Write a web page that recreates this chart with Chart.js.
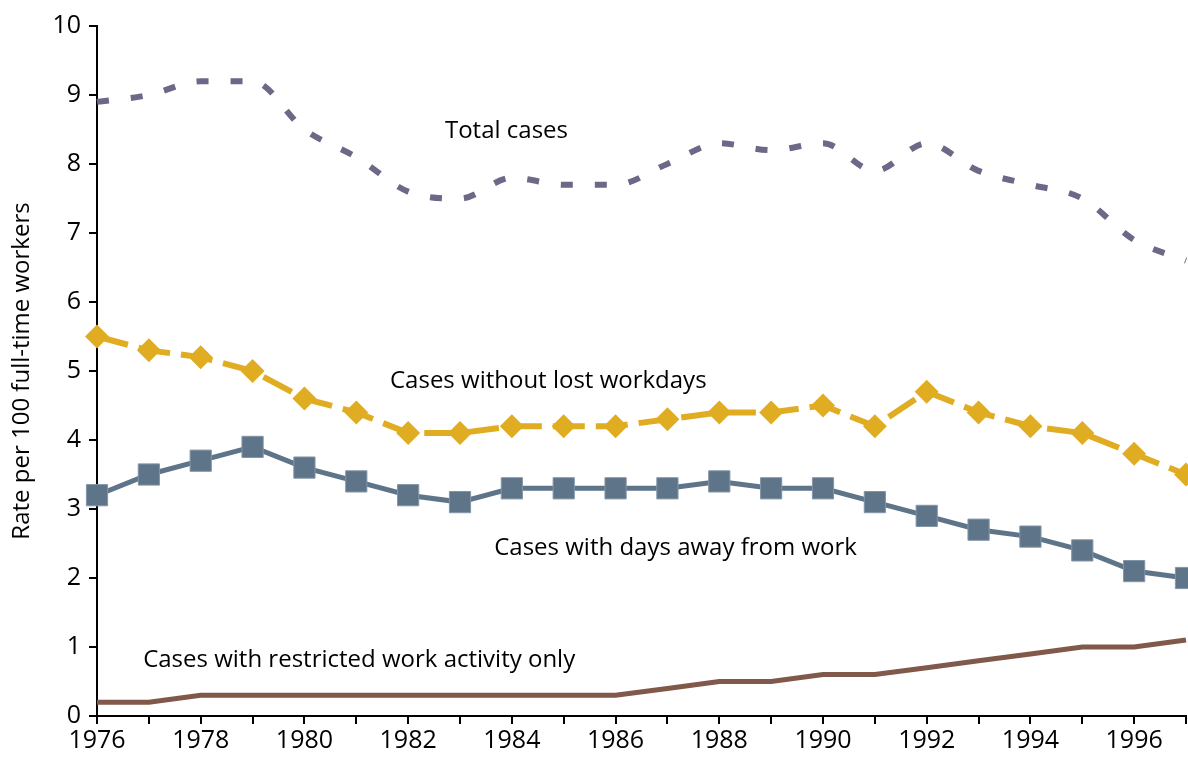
<!DOCTYPE html>
<html>
<head>
<meta charset="utf-8">
<script src="https://cdn.jsdelivr.net/npm/chart.js@4"></script>
<style>
  html, body { margin: 0; padding: 0; background: #fff; }
  #wrap { width: 1188px; height: 761px; }
</style>
</head>
<body>
<div id="wrap"><canvas id="chart" width="1188" height="761"></canvas></div>
<script>
const years = [1976, 1977, 1978, 1979, 1980, 1981, 1982, 1983, 1984, 1985, 1986,
  1987, 1988, 1989, 1990, 1991, 1992, 1993, 1994, 1995, 1996, 1997]
const totalCases = [8.9, 9.0, 9.2, 9.2, 8.5, 8.1, 7.6, 7.5, 7.8, 7.7, 7.7,
  8.0, 8.3, 8.2, 8.3, 7.9, 8.3, 7.9, 7.7, 7.5, 6.9, 6.6]
const withoutLost = [5.5, 5.3, 5.2, 5.0, 4.6, 4.4, 4.1, 4.1, 4.2, 4.2, 4.2,
  4.3, 4.4, 4.4, 4.5, 4.2, 4.7, 4.4, 4.2, 4.1, 3.8, 3.5]
const daysAway = [3.2, 3.5, 3.7, 3.9, 3.6, 3.4, 3.2, 3.1, 3.3, 3.3, 3.3,
  3.3, 3.4, 3.3, 3.3, 3.1, 2.9, 2.7, 2.6, 2.4, 2.1, 2.0]
const restricted = [0.2, 0.2, 0.3, 0.3, 0.3, 0.3, 0.3, 0.3, 0.3, 0.3, 0.3,
  0.4, 0.5, 0.5, 0.6, 0.6, 0.7, 0.8, 0.9, 1.0, 1.0, 1.1]
const yTicks = [0, 1, 2, 3, 4, 5, 6, 7, 8, 9, 10]

// series labels placed in the plot, in data coordinates (left edge, middle)
const seriesLabels = [
  { text: 'Total cases', x: 1982.71, y: 8.48 },
  { text: 'Cases without lost workdays', x: 1981.65, y: 4.86 },
  { text: 'Cases with days away from work', x: 1983.66, y: 2.43 },
  { text: 'Cases with restricted work activity only', x: 1976.89, y: 0.81 }
]

const FONT = "'Open Sans', 'DejaVu Sans', sans-serif"

const toPoints = vals => vals.map((v, i) => ({ x: years[i], y: v }))

const labelPlugin = {
  id: 'seriesLabels',
  afterDatasetsDraw(chart) {
    const { ctx, scales } = chart
    ctx.save()
    ctx.font = `24px ${FONT}`
    ctx.fillStyle = '#000'
    ctx.textAlign = 'left'
    ctx.textBaseline = 'middle'
    seriesLabels.forEach(l => {
      ctx.fillText(l.text, scales.x.getPixelForValue(l.x), scales.y.getPixelForValue(l.y))
    })
    ctx.restore()
  }
}

new Chart(document.getElementById('chart'), {
  type: 'line',
  data: {
    datasets: [
      {
        label: 'Total cases',
        data: toPoints(totalCases),
        borderColor: '#6E6787',
        borderWidth: 6,
        borderDash: [12, 22],
        borderCapStyle: 'butt',
        cubicInterpolationMode: 'monotone',
        pointRadius: 0,
        clip: false
      },
      {
        label: 'Cases without lost workdays',
        data: toPoints(withoutLost),
        borderColor: '#E0AD22',
        backgroundColor: '#E0AD22',
        borderWidth: 6,
        borderDash: [32, 11],
        tension: 0,
        pointStyle: 'rectRot',
        pointRadius: 12,
        pointBorderWidth: 0,
        pointBackgroundColor: '#E0AD22',
        clip: false
      },
      {
        label: 'Cases with days away from work',
        data: toPoints(daysAway),
        borderColor: '#5E7489',
        backgroundColor: '#5E7489',
        borderWidth: 5,
        tension: 0,
        pointStyle: 'rect',
        pointRadius: 15,
        pointBorderWidth: 1,
        pointBorderColor: '#8396A8',
        pointBackgroundColor: '#5E7489',
        clip: false
      },
      {
        label: 'Cases with restricted work activity only',
        data: toPoints(restricted),
        borderColor: '#80594A',
        borderWidth: 5,
        tension: 0,
        pointRadius: 0,
        clip: false
      }
    ]
  },
  options: {
    responsive: false,
    animation: false,
    layout: { autoPadding: false, padding: { top: 26, right: 2, left: 0, bottom: 0 } },
    plugins: {
      legend: { display: false },
      tooltip: { enabled: false }
    },
    scales: {
      x: {
        type: 'linear',
        min: 1976,
        max: 1997,
        afterFit: scale => {
          scale.height = 45
          scale.paddingLeft = 0
          scale.paddingRight = 0
        },
        border: { color: '#000', width: 2 },
        grid: { drawOnChartArea: false, drawTicks: true, tickLength: 8, color: '#000', lineWidth: 2 },
        ticks: {
          stepSize: 1,
          autoSkip: false,
          maxRotation: 0,
          padding: 2,
          color: '#000',
          font: { family: FONT, size: 25 },
          callback: v => (v % 2 === 0 ? String(v) : '')
        }
      },
      y: {
        min: 0,
        max: 10,
        afterFit: scale => { scale.width = 97 },
        afterBuildTicks: scale => { scale.ticks = yTicks.map(v => ({ value: v })) },
        border: { color: '#000', width: 2 },
        grid: { drawOnChartArea: false, drawTicks: true, tickLength: 8, color: '#000', lineWidth: 2 },
        ticks: {
          padding: 8,
          color: '#000',
          font: { family: FONT, size: 25 }
        },
        title: {
          display: true,
          text: 'Rate per 100 full-time workers',
          color: '#000',
          font: { family: FONT, size: 24 },
          padding: { top: 8, bottom: 0 }
        }
      }
    }
  },
  plugins: [labelPlugin]
})
</script>
</body>
</html>
